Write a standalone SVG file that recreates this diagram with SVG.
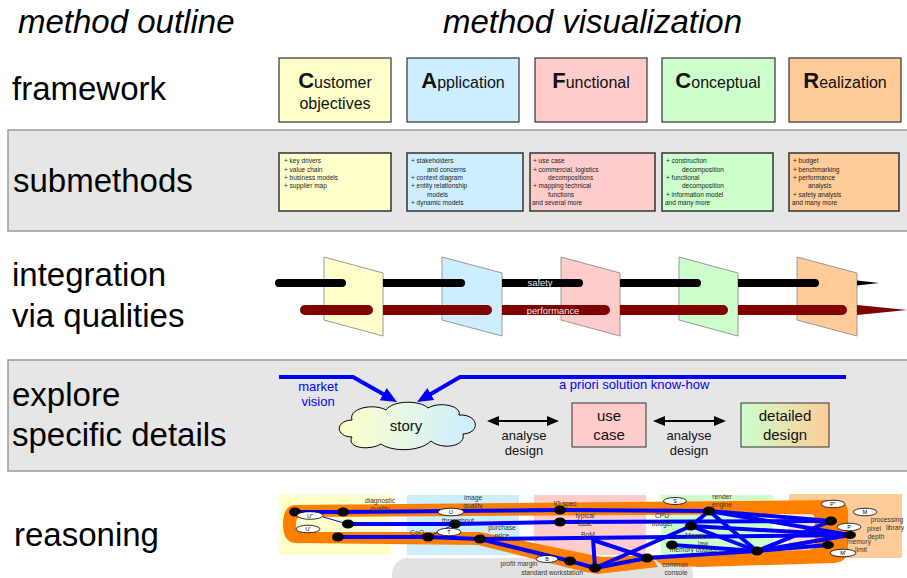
<svg xmlns="http://www.w3.org/2000/svg" width="907" height="578" viewBox="0 0 907 578">
<style>
text{font-family:'Liberation Sans',Arial,sans-serif;}
.hdr{font-size:33px;font-style:italic;fill:#000;}
.lbl{font-size:33px;fill:#000;}
.fw{stroke:#333;stroke-width:1.2;}
.big{font-size:22px;font-weight:bold;}
.fwt{font-size:16px;fill:#111;}
.sm{stroke:#333;stroke-width:1.5;}
.smt{font-size:6.5px;fill:#222;}
.plane{stroke:#999;stroke-width:1;}
.blk{stroke:#000;stroke-width:8;stroke-linecap:round;fill:none;}
.red{stroke:#800000;stroke-width:10;stroke-linecap:round;fill:none;}
.band{fill:#e6e6e6;stroke:#9a9a9a;stroke-width:1.5;}
.blue{fill:#0000ff;font-size:13px;}
.mid{font-size:13px;fill:#111;text-anchor:middle;}
.box15{font-size:15px;fill:#111;text-anchor:middle;}
.bl{stroke:#0000ff;stroke-width:4;fill:none;stroke-linejoin:round;}
.blt{stroke:#0000ff;stroke-width:1;fill:none;}
.nd{fill:#000;}
.el{fill:#fff;stroke:#000;stroke-width:0.8;}
.elt{font-size:5.5px;fill:#000;text-anchor:middle;}
.rt{font-size:6.7px;fill:#333;text-anchor:middle;}
</style>
<defs>
<marker id="ba" markerUnits="userSpaceOnUse" markerWidth="18" markerHeight="16" refX="4" refY="7" orient="auto"><path d="M0,0 L16,7 L0,14 z" fill="#0000ff"/></marker>
<marker id="ka" markerUnits="userSpaceOnUse" markerWidth="14" markerHeight="12" refX="2" refY="5" orient="auto-start-reverse"><path d="M0,0 L12,5 L0,10 z" fill="#000"/></marker>
<linearGradient id="gc" x1="0" y1="0" x2="1" y2="0"><stop offset="0" stop-color="#ffffcc"/><stop offset="1" stop-color="#cceeff"/></linearGradient>
<linearGradient id="gd" x1="0" y1="0" x2="1" y2="0"><stop offset="0" stop-color="#ccffcc"/><stop offset="1" stop-color="#ffcc99"/></linearGradient>
</defs>

<!-- headers and left labels -->
<text class="hdr" x="18" y="33">method outline</text>
<text class="hdr" x="443" y="33">method visualization</text>
<rect class="band" x="8" y="130" width="905" height="101"/>
<rect class="band" x="8" y="360" width="905" height="111"/>
<text class="lbl" x="12" y="100">framework</text>
<text class="lbl" x="13" y="192">submethods</text>
<text class="lbl" x="12" y="286">integration</text>
<text class="lbl" x="12" y="327">via qualities</text>
<text class="lbl" x="12" y="406">explore</text>
<text class="lbl" x="12" y="446">specific details</text>
<text class="lbl" x="14" y="546">reasoning</text>

<!-- framework -->
<g id="fw-customer"><rect class="fw" x="279" y="58" width="112" height="64" fill="#ffffcc"/><text class="fwt" x="335" y="88" text-anchor="middle"><tspan class="big">C</tspan>ustomer</text><text class="fwt" x="335" y="109" text-anchor="middle">objectives</text></g>
<g id="fw-application"><rect class="fw" x="407" y="58" width="112" height="64" fill="#cceeff"/><text class="fwt" x="463" y="88" text-anchor="middle"><tspan class="big">A</tspan>pplication</text></g>
<g id="fw-functional"><rect class="fw" x="535" y="58" width="112" height="64" fill="#ffcccc"/><text class="fwt" x="591" y="88" text-anchor="middle"><tspan class="big">F</tspan>unctional</text></g>
<g id="fw-conceptual"><rect class="fw" x="662" y="58" width="113" height="64" fill="#ccffcc"/><text class="fwt" x="718" y="88" text-anchor="middle"><tspan class="big">C</tspan>onceptual</text></g>
<g id="fw-realization"><rect class="fw" x="789" y="58" width="112" height="64" fill="#ffcc99"/><text class="fwt" x="845" y="88" text-anchor="middle"><tspan class="big">R</tspan>ealization</text></g>

<!-- submethods -->
<g id="sm-customer"><rect class="sm" x="279" y="153" width="112" height="58" fill="#ffffcc"/>
<text class="smt"><tspan x="284" y="163.3">+ key drivers</tspan><tspan x="284" y="171.6">+ value chain</tspan><tspan x="284" y="179.9">+ business models</tspan><tspan x="284" y="188.2">+ supplier map</tspan></text></g>
<g id="sm-application"><rect class="sm" x="407" y="153" width="116" height="58" fill="#cceeff"/>
<text class="smt"><tspan x="411" y="163.3">+ stakeholders</tspan><tspan x="427" y="171.6">and concerns</tspan><tspan x="411" y="179.9">+ context diagram</tspan><tspan x="411" y="188.2">+ entity relationship</tspan><tspan x="427" y="196.5">models</tspan><tspan x="411" y="204.8">+ dynamic models</tspan></text></g>
<g id="sm-functional"><rect class="sm" x="530" y="153" width="125" height="58" fill="#ffcccc"/>
<text class="smt"><tspan x="533" y="163.3">+ use case</tspan><tspan x="533" y="171.6">+ commercial, logistics</tspan><tspan x="548" y="179.9">decompositions</tspan><tspan x="533" y="188.2">+ mapping technical</tspan><tspan x="548" y="196.5">functions</tspan><tspan x="532" y="204.8">and several more</tspan></text></g>
<g id="sm-conceptual"><rect class="sm" x="662" y="153" width="111" height="58" fill="#ccffcc"/>
<text class="smt"><tspan x="666" y="163.3">+ construction</tspan><tspan x="682" y="171.6">decomposition</tspan><tspan x="666" y="179.9">+ functional</tspan><tspan x="682" y="188.2">decomposition</tspan><tspan x="666" y="196.5">+ information model</tspan><tspan x="665" y="204.8">and many more</tspan></text></g>
<g id="sm-realization"><rect class="sm" x="789" y="153" width="110" height="58" fill="#ffcc99"/>
<text class="smt"><tspan x="793" y="163.3">+ budget</tspan><tspan x="793" y="171.6">+ benchmarking</tspan><tspan x="793" y="179.9">+ performance</tspan><tspan x="808" y="188.2">analysis</tspan><tspan x="793" y="196.5">+ safety analysis</tspan><tspan x="792" y="204.8">and many more</tspan></text></g>

<!-- integration via qualities -->
<g id="integration">
<polygon class="plane" points="324,257 383,273 383,336 324,320" fill="#ffffcc"/>
<line class="blk" x1="279" y1="283" x2="342" y2="283"/>
<line class="red" x1="305" y1="310" x2="368" y2="310"/>
<polygon class="plane" points="442,257 502,273 502,336 442,320" fill="#cceeff"/>
<path class="blk" d="M383,283 H461" style="stroke-linecap:butt"/><circle cx="461" cy="283" r="4"/>
<path class="red" d="M383,310 H487" style="stroke-linecap:butt"/><circle cx="487" cy="310" r="5" fill="#800000"/>
<polygon class="plane" points="561,257 620,273 620,336 561,320" fill="#ffcccc"/>
<path class="blk" d="M502,283 H579" style="stroke-linecap:butt"/><circle cx="579" cy="283" r="4"/>
<path class="red" d="M502,310 H605" style="stroke-linecap:butt"/><circle cx="605" cy="310" r="5" fill="#800000"/>
<polygon class="plane" points="679,257 738,273 738,336 679,320" fill="#ccffcc"/>
<path class="blk" d="M620,283 H697" style="stroke-linecap:butt"/><circle cx="697" cy="283" r="4"/>
<path class="red" d="M620,310 H723" style="stroke-linecap:butt"/><circle cx="723" cy="310" r="5" fill="#800000"/>
<polygon class="plane" points="797,257 857,273 857,336 797,320" fill="#ffcc99"/>
<path class="blk" d="M738,283 H815" style="stroke-linecap:butt"/><circle cx="815" cy="283" r="4"/>
<path class="red" d="M738,310 H842" style="stroke-linecap:butt"/><circle cx="842" cy="310" r="5" fill="#800000"/>
<polygon points="857,280.5 879,283 857,285.5" fill="#000"/>
<polygon points="857,305 907,310 857,315" fill="#800000"/>
<text x="540" y="286" font-size="9.4" fill="#e8e8e8" text-anchor="middle">safety</text>
<text x="553" y="313.5" font-size="9.4" fill="#e8e8e8" text-anchor="middle">performance</text>
</g>

<!-- explore -->
<g id="connectors-explore">
<path d="M279,377 H353 L386.6,396.1" stroke="#0000ff" stroke-width="4" fill="none" stroke-linejoin="round" marker-end="url(#ba)"/>
<path d="M846,377 H460 L427.4,396" stroke="#0000ff" stroke-width="4" fill="none" stroke-linejoin="round" marker-end="url(#ba)"/>
<line x1="497" y1="421" x2="549" y2="421" stroke="#000" stroke-width="2" marker-start="url(#ka)" marker-end="url(#ka)"/>
<line x1="663" y1="421" x2="716" y2="421" stroke="#000" stroke-width="2" marker-start="url(#ka)" marker-end="url(#ka)"/>
</g>
<text class="blue" x="318" y="391" text-anchor="middle">market</text>
<text class="blue" x="318" y="406" text-anchor="middle">vision</text>
<text class="blue" x="559" y="389">a priori solution know-how</text>
<g id="story">
<path d="M352,437 C336,437 334,421 352,420 C348,408 374,403 386,410 C393,400 420,400 428,408 C440,401 462,406 459,415 C479,414 481,433 463,434 C466,447 441,450 431,441 C420,452 392,452 381,444 C369,451 346,448 352,437 Z" fill="url(#gc)" stroke="#000" stroke-width="1"/>
<text x="406" y="431" font-size="15" fill="#111" text-anchor="middle">story</text>
</g>
<text class="mid" x="524" y="440">analyse</text>
<text class="mid" x="524" y="455">design</text>
<text class="mid" x="689" y="440">analyse</text>
<text class="mid" x="689" y="455">design</text>
<g id="usecase"><rect x="572" y="403" width="74" height="44" fill="#ffcccc" stroke="#333" stroke-width="1"/><text class="box15" x="609" y="421">use</text><text class="box15" x="609" y="440">case</text></g>
<g id="detailed"><rect x="741" y="403" width="88" height="44" fill="url(#gd)" stroke="#333" stroke-width="1"/><text class="box15" x="785" y="421">detailed</text><text class="box15" x="785" y="440">design</text></g>

<!-- reasoning -->
<g id="reasoning-bg">
<rect x="279" y="495" width="112" height="60" fill="#ffffcc"/>
<rect x="407" y="495" width="112" height="60" fill="#cceeff"/>
<rect x="534" y="495" width="112" height="60" fill="#ffcccc"/>
<rect x="661" y="495" width="112" height="61" fill="#ccffcc"/>
<rect x="789" y="494" width="113" height="64" fill="#ffcc99"/>
<rect x="392" y="558" width="301" height="40" rx="16" fill="#e2e2e2"/>
<rect x="790" y="514" width="24" height="34" rx="4" fill="#ffe3c6"/>
<path fill="#ff8000" fill-rule="evenodd" d="M296,505 L835,500 Q848,500 848,513 L848,548 Q848,562 834,563 L700,567 L662,565 L652,557 L658,567 L598,574 L585,572 L478,545 L296,543 Q283,543 283,524 Q283,505 296,505 Z M300,517 L810,514 Q815,514 815,519 L815,544 Q815,550 808,550 L602,557 L480,532 L300,532 Q296,532 296,525 Q296,517 300,517 Z"/>
</g>
<g id="reasoning-connectors">
<polyline class="bl" points="295,512 343,512 560,510 709,511 831,521"/>
<polyline class="bl" points="348,524 455,524 560,522 831,521"/>
<polyline class="bl" points="338,537 428,537 480,539 850,535"/>
<polyline class="bl" points="480,539 570,561 595,568"/>
<line class="bl" x1="593" y1="538" x2="595" y2="568"/>
<line class="bl" x1="593" y1="540" x2="647" y2="558"/>
<line class="bl" x1="595" y1="568" x2="691" y2="526"/>
<polyline class="bl" points="595,568 647,558 757,551"/>
<line class="bl" x1="691" y1="526" x2="850" y2="535"/>
<line class="bl" x1="709" y1="511" x2="850" y2="535"/>
<line class="bl" x1="709" y1="511" x2="691" y2="526"/>
<line class="bl" x1="709" y1="511" x2="757" y2="551"/>
<line class="bl" x1="691" y1="526" x2="757" y2="551"/>
<line class="bl" x1="672" y1="545" x2="757" y2="551"/>
<line class="bl" x1="757" y1="551" x2="831" y2="521"/>
<line class="bl" x1="757" y1="551" x2="850" y2="535"/>
<line class="bl" x1="757" y1="551" x2="828" y2="545"/>
<line class="blt" x1="323" y1="517" x2="348" y2="524"/>
<line class="blt" x1="428" y1="537" x2="455" y2="524"/>
</g>
<g id="reasoning-nodes">
<ellipse class="nd" cx="295" cy="512" rx="6" ry="4.5"/>
<ellipse class="nd" cx="343" cy="512" rx="6" ry="4.5"/>
<ellipse class="nd" cx="348" cy="524" rx="6" ry="4.5"/>
<ellipse class="nd" cx="338" cy="537" rx="6" ry="4.5"/>
<ellipse class="nd" cx="428" cy="537" rx="6" ry="4.5"/>
<ellipse class="nd" cx="455" cy="524" rx="6" ry="4.5"/>
<ellipse class="nd" cx="480" cy="539" rx="6" ry="4.5"/>
<ellipse class="nd" cx="560" cy="510" rx="6" ry="4.5"/>
<ellipse class="nd" cx="560" cy="522" rx="6" ry="4.5"/>
<ellipse class="nd" cx="570" cy="561" rx="6" ry="4.5"/>
<ellipse class="nd" cx="595" cy="568" rx="6" ry="4.5"/>
<ellipse class="nd" cx="647" cy="558" rx="6" ry="4.5"/>
<ellipse class="nd" cx="672" cy="545" rx="6" ry="4.5"/>
<ellipse class="nd" cx="691" cy="526" rx="6" ry="4.5"/>
<ellipse class="nd" cx="709" cy="511" rx="6" ry="4.5"/>
<ellipse class="nd" cx="757" cy="551" rx="6" ry="4.5"/>
<ellipse class="nd" cx="831" cy="521" rx="6" ry="4.5"/>
<ellipse class="nd" cx="850" cy="535" rx="6" ry="4"/>
<ellipse class="nd" cx="828" cy="545" rx="6" ry="4"/>
<ellipse class="el" cx="310" cy="515.5" rx="13" ry="3.8"/><text class="elt" x="310" y="517.5">U''</text>
<ellipse class="el" cx="308" cy="529" rx="12" ry="3.8"/><text class="elt" x="308" y="531">U'</text>
<ellipse class="el" cx="451" cy="512" rx="13" ry="3.8"/><text class="elt" x="451" y="514">U</text>
<ellipse class="el" cx="449" cy="532" rx="12" ry="3.8"/><text class="elt" x="449" y="534">T</text>
<ellipse class="el" cx="547" cy="559" rx="11" ry="3.5"/><text class="elt" x="547" y="561">B</text>
<ellipse class="el" cx="675" cy="501" rx="11.5" ry="3.5"/><text class="elt" x="675" y="503">S</text>
<ellipse class="el" cx="833" cy="504" rx="12" ry="3.8"/><text class="elt" x="833" y="506">P''</text>
<ellipse class="el" cx="865" cy="512" rx="12" ry="3.8"/><text class="elt" x="865" y="514">M</text>
<ellipse class="el" cx="849" cy="527" rx="12" ry="3.8"/><text class="elt" x="849" y="529">P</text>
<ellipse class="el" cx="843" cy="553" rx="13" ry="3.8"/><text class="elt" x="843" y="555">M'</text>
</g>
<g id="reasoning-labels">
<text class="rt" x="380" y="503">diagnostic</text><text class="rt" x="380" y="511">quality</text>
<text class="rt" x="473" y="500">image</text><text class="rt" x="473" y="508">quality</text>
<text class="rt" x="458" y="523">throughput</text>
<text class="rt" x="417" y="535">CoO</text>
<text class="rt" x="502" y="530">purchase</text><text class="rt" x="502" y="538">price</text>
<text class="rt" x="565" y="506">IQ spec</text>
<text class="rt" x="585" y="518">typical</text><text class="rt" x="585" y="526">case</text>
<text class="rt" x="588" y="537">BoM</text>
<text class="rt" x="519" y="566">profit margin</text>
<text class="rt" x="552" y="575">standard workstation</text>
<text class="rt" x="662" y="518">CPU</text><text class="rt" x="662" y="526">budget</text>
<text class="rt" x="722" y="499">render</text><text class="rt" x="722" y="507">engine</text>
<text class="rt" x="697" y="538">Moore's</text><text class="rt" x="703" y="546">law</text>
<text class="rt" x="693" y="552">memory budget</text>
<text class="rt" x="675" y="567">common</text><text class="rt" x="676" y="575">console</text>
<text class="rt" x="887" y="522">processing</text><text class="rt" x="895" y="530">library</text>
<text class="rt" x="874" y="531">pixel</text><text class="rt" x="876" y="539">depth</text>
<text class="rt" x="859" y="544">memory</text><text class="rt" x="861" y="552">limit</text>
</g>
</svg>
